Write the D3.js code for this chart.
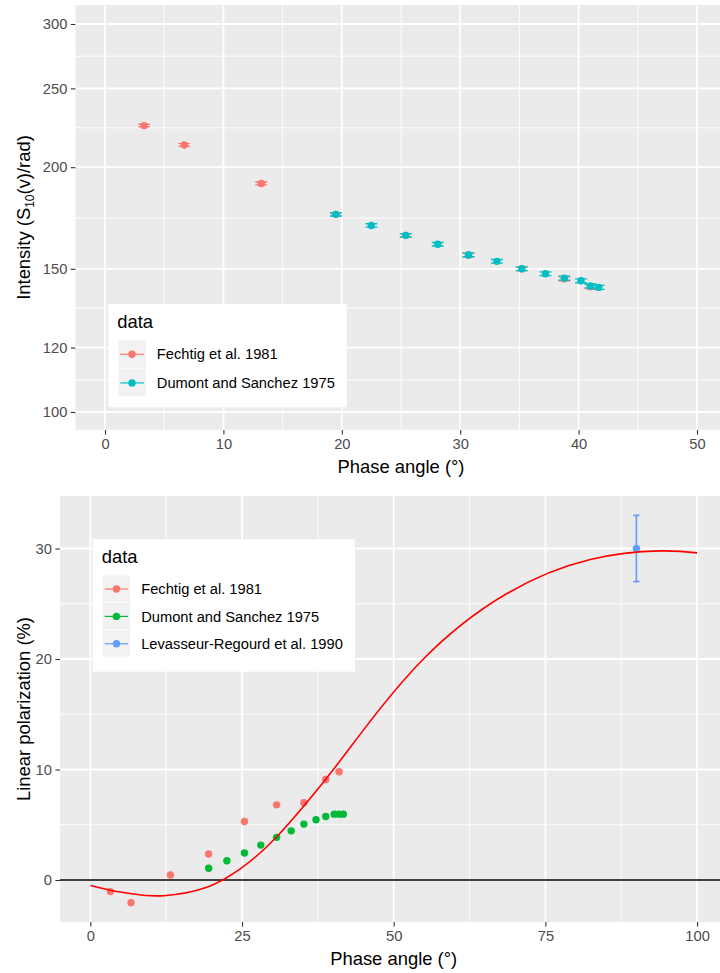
<!DOCTYPE html>
<html>
<head>
<meta charset="utf-8">
<script src="https://cdn.jsdelivr.net/npm/d3@7"></script>
<style>
  html, body { margin: 0; padding: 0; background: #fff; }
  svg { display: block; font-family: "Liberation Sans", Arial, Helvetica, sans-serif; }
</style>
</head>
<body>
<svg id="chart" width="720" height="973"></svg>
<script>
// ---------- DATA ----------
// Top panel: intensity vs phase angle
const fechtigAngle = [3.3, 6.7, 13.2, 19.5, 25.4, 30.7, 35.2, 38.8, 41.0];
const fechtigIntensity = [225, 213, 191, 175.0, 164.9, 156.0, 150.0, 145.8, 142.6];
const fechtigIntensityErr = [0.8, 0.8, 0.8, 0.8, 0.8, 0.8, 0.8, 0.8, 0.8];

const dumontAngle = [19.5, 22.5, 25.4, 28.1, 30.7, 33.1, 35.2, 37.2, 38.8, 40.2, 41.0, 41.7];
const dumontIntensity = [175.0, 169.6, 164.9, 160.8, 156.0, 153.2, 150.0, 147.9, 146.1, 145.0, 142.9, 142.3];
const dumontIntensityErr = [0.8, 0.8, 0.8, 0.8, 0.8, 0.8, 0.8, 0.8, 0.8, 0.8, 0.8, 0.8];

const intensityTicks = [100, 120, 150, 200, 250, 300];
const intensityMinor = [109.5, 134.2, 173.2, 223.6, 273.9];
const angleTicksTop = [0, 10, 20, 30, 40, 50];
const angleMinorTop = [5, 15, 25, 35, 45];

// Bottom panel: linear polarization vs phase angle
const fechtigPol = [-1.05, -2.05, 0.45, 2.35, 5.3, 6.8, 7.0, 9.1, 9.8];
const dumontPol = [1.06, 1.74, 2.44, 3.16, 3.86, 4.45, 5.06, 5.45, 5.75, 5.96, 5.96, 5.96];
const levasseurAngle = [90];
const levasseurPol = [30];
const levasseurPolErr = [3];

// fitted curve
const fitAngle = [0, 3.3, 7.1, 12.1, 19.2, 24.7, 30.6, 38.7, 44.5, 54.9, 68.6, 82.4, 93.9, 100];
const fitPol = [-0.5, -0.92, -1.27, -1.42, -0.66, 1.0, 3.85, 9.06, 13.2, 20.0, 25.9, 29.0, 29.78, 29.6];

const polTicks = [0, 10, 20, 30];
const polMinor = [5, 15, 25];
const angleTicksBottom = [0, 25, 50, 75, 100];
const angleMinorBottom = [12.5, 37.5, 62.5, 87.5];

const seriesTop = ["Fechtig et al. 1981", "Dumont and Sanchez 1975"];
const colorsTop = ["#F8766D", "#00BFC4"];
const seriesBottom = ["Fechtig et al. 1981", "Dumont and Sanchez 1975", "Levasseur-Regourd et al. 1990"];
const colorsBottom = ["#F8766D", "#00BA38", "#619CFF"];

// ---------- DRAW ----------
const svg = d3.select("#chart");
const PANEL_BG = "#EBEBEB";
const TICK_COL = "#333333";
const LABEL_COL = "#4D4D4D";
const SMALL = 14.7, BASE = 18.4;

function panel(g, x0, x1, y0, y1, xs, ys, xMaj, xMin, yMaj, yMin, clipId) {
  g.append("rect").attr("x", x0).attr("y", y0).attr("width", x1 - x0).attr("height", y1 - y0).attr("fill", PANEL_BG);
  const grid = g.append("g");
  xMin.forEach(v => grid.append("line").attr("x1", xs(v)).attr("x2", xs(v)).attr("y1", y0).attr("y2", y1).attr("stroke", "#fff").attr("stroke-width", 0.9));
  yMin.forEach(v => grid.append("line").attr("x1", x0).attr("x2", x1).attr("y1", ys(v)).attr("y2", ys(v)).attr("stroke", "#fff").attr("stroke-width", 0.9));
  xMaj.forEach(v => grid.append("line").attr("x1", xs(v)).attr("x2", xs(v)).attr("y1", y0).attr("y2", y1).attr("stroke", "#fff").attr("stroke-width", 1.8));
  yMaj.forEach(v => grid.append("line").attr("x1", x0).attr("x2", x1).attr("y1", ys(v)).attr("y2", ys(v)).attr("stroke", "#fff").attr("stroke-width", 1.8));
  svg.append("clipPath").attr("id", clipId).append("rect").attr("x", x0).attr("y", y0).attr("width", x1 - x0).attr("height", y1 - y0);
}

function axes(g, x0, y1, xs, ys, xMaj, yMaj, fmtY) {
  const xa = d3.axisBottom(xs).tickValues(xMaj).tickSize(4.6).tickPadding(4).tickFormat(d3.format("d"));
  const xg = g.append("g").attr("transform", `translate(0,${y1})`).call(xa);
  const ya = d3.axisLeft(ys).tickValues(yMaj).tickSize(4.6).tickPadding(3.5).tickFormat(fmtY);
  const yg = g.append("g").attr("transform", `translate(${x0},0)`).call(ya);
  [xg, yg].forEach(a => {
    a.select(".domain").remove();
    a.selectAll(".tick line").attr("stroke", TICK_COL).attr("stroke-width", 1.1);
    a.selectAll(".tick text").attr("fill", LABEL_COL).style("font-size", SMALL + "px").style("font-family", "'Liberation Sans', Arial, sans-serif");
  });
}

function legend(g, bx, by, bw, bh, names, colors, keyH) {
  g.append("rect").attr("x", bx).attr("y", by).attr("width", bw).attr("height", bh).attr("fill", "#fff");
  g.append("text").attr("x", bx + 9).attr("y", by + 24).text("data").style("font-size", BASE + "px").attr("fill", "#000");
  names.forEach((n, i) => {
    const ky = by + 36 + i * keyH;
    const kx = bx + 10;
    g.append("rect").attr("x", kx).attr("y", ky).attr("width", 27.5).attr("height", keyH - 0.8).attr("fill", "#F2F2F2");
    g.append("line").attr("x1", kx + 2).attr("x2", kx + 25.5).attr("y1", ky + keyH / 2).attr("y2", ky + keyH / 2).attr("stroke", colors[i]).attr("stroke-width", 1.2);
    g.append("circle").attr("cx", kx + 13.75).attr("cy", ky + keyH / 2).attr("r", 3.7).attr("fill", colors[i]);
    g.append("text").attr("x", kx + 38.5).attr("y", ky + keyH / 2).attr("dy", "0.35em").text(n).style("font-size", SMALL + "px").attr("fill", "#000");
  });
}

// ===== Top panel =====
{
  const x0 = 75.4, x1 = 726.6, y0 = 5, y1 = 430;
  const xs = d3.scaleLinear().domain([-2.5, 52.5]).range([x0, x1]);
  const ys = d3.scaleLog().domain([100, 300]).range([412, 24]);
  const g = svg.append("g");
  panel(g, x0, x1, y0, y1, xs, ys, angleTicksTop, angleMinorTop, intensityTicks, intensityMinor, "clipTop");
  axes(g, x0, y1, xs, ys, angleTicksTop, intensityTicks, d3.format("d"));

  const data = [
    { a: fechtigAngle, v: fechtigIntensity, e: fechtigIntensityErr, c: colorsTop[0] },
    { a: dumontAngle, v: dumontIntensity, e: dumontIntensityErr, c: colorsTop[1] }
  ];
  const marks = g.append("g").attr("clip-path", "url(#clipTop)");
  data.forEach(s => {
    s.a.forEach((a, i) => {
      const lo = ys(s.v[i] - s.e[i]), hi = ys(s.v[i] + s.e[i]);
      const xl = xs(a - 0.5), xr = xs(a + 0.5);
      marks.append("path").attr("d", `M${xl},${hi}H${xr}M${xs(a)},${hi}V${lo}M${xl},${lo}H${xr}`)
        .attr("stroke", s.c).attr("stroke-width", 1.3).attr("fill", "none");
    });
  });
  data.forEach(s => {
    s.a.forEach((a, i) => {
      marks.append("circle").attr("cx", xs(a)).attr("cy", ys(s.v[i])).attr("r", 3.7).attr("fill", s.c);
    });
  });

  // axis titles
  svg.append("text").attr("x", (x0 + x1) / 2).attr("y", 472.5).attr("text-anchor", "middle")
    .style("font-size", BASE + "px").text("Phase angle (°)");
  const yt = svg.append("text").attr("transform", `translate(30,${(y0 + y1) / 2}) rotate(-90)`)
    .attr("text-anchor", "middle").style("font-size", BASE + "px");
  yt.append("tspan").text("Intensity (S");
  yt.append("tspan").attr("dy", 4).style("font-size", "12px").text("10");
  yt.append("tspan").attr("dy", -4).text("(v)/rad)");

  legend(svg.append("g"), 108.3, 304, 238.4, 103.3, seriesTop, colorsTop, 28.6);
}

// ===== Bottom panel =====
{
  const x0 = 60, x1 = 727.4, y0 = 496, y1 = 922;
  const xs = d3.scaleLinear().domain([-5, 105]).range([x0, x1]);
  const ys = d3.scaleLinear().domain([-3.8, 34.75]).range([y1, y0]);
  const g = svg.append("g");
  panel(g, x0, x1, y0, y1, xs, ys, angleTicksBottom, angleMinorBottom, polTicks, polMinor, "clipBot");
  axes(g, x0, y1, xs, ys, angleTicksBottom, polTicks, d3.format("d"));

  const marks = g.append("g").attr("clip-path", "url(#clipBot)");
  // horizontal reference line at 0
  marks.append("line").attr("x1", x0).attr("x2", x1).attr("y1", ys(0)).attr("y2", ys(0)).attr("stroke", "#000").attr("stroke-width", 1.4);

  // Levasseur error bar
  levasseurAngle.forEach((a, i) => {
    const lo = ys(levasseurPol[i] - levasseurPolErr[i]), hi = ys(levasseurPol[i] + levasseurPolErr[i]);
    const xl = xs(a - 0.5), xr = xs(a + 0.5);
    marks.append("path").attr("d", `M${xl},${hi}H${xr}M${xs(a)},${hi}V${lo}M${xl},${lo}H${xr}`)
      .attr("stroke", colorsBottom[2]).attr("stroke-width", 1.6).attr("fill", "none");
  });

  // points
  const pts = [
    { a: fechtigAngle, v: fechtigPol, c: colorsBottom[0] },
    { a: dumontAngle, v: dumontPol, c: colorsBottom[1] },
    { a: levasseurAngle, v: levasseurPol, c: colorsBottom[2] }
  ];
  pts.forEach(s => {
    s.a.forEach((a, i) => {
      marks.append("circle").attr("cx", xs(a)).attr("cy", ys(s.v[i])).attr("r", 3.7).attr("fill", s.c);
    });
  });

  // fitted curve
  const line = d3.line().x(d => xs(d[0])).y(d => ys(d[1])).curve(d3.curveNatural);
  marks.append("path").datum(fitAngle.map((a, i) => [a, fitPol[i]]))
    .attr("d", line).attr("fill", "none").attr("stroke", "#FF0000").attr("stroke-width", 1.6);

  svg.append("text").attr("x", (x0 + x1) / 2).attr("y", 964.5).attr("text-anchor", "middle")
    .style("font-size", BASE + "px").text("Phase angle (°)");
  svg.append("text").attr("transform", `translate(30,${(y0 + y1) / 2}) rotate(-90)`)
    .attr("text-anchor", "middle").style("font-size", BASE + "px").text("Linear polarization (%)");

  legend(svg.append("g"), 92.7, 539.3, 262.3, 132.4, seriesBottom, colorsBottom, 27.4);
}
</script>
</body>
</html>
